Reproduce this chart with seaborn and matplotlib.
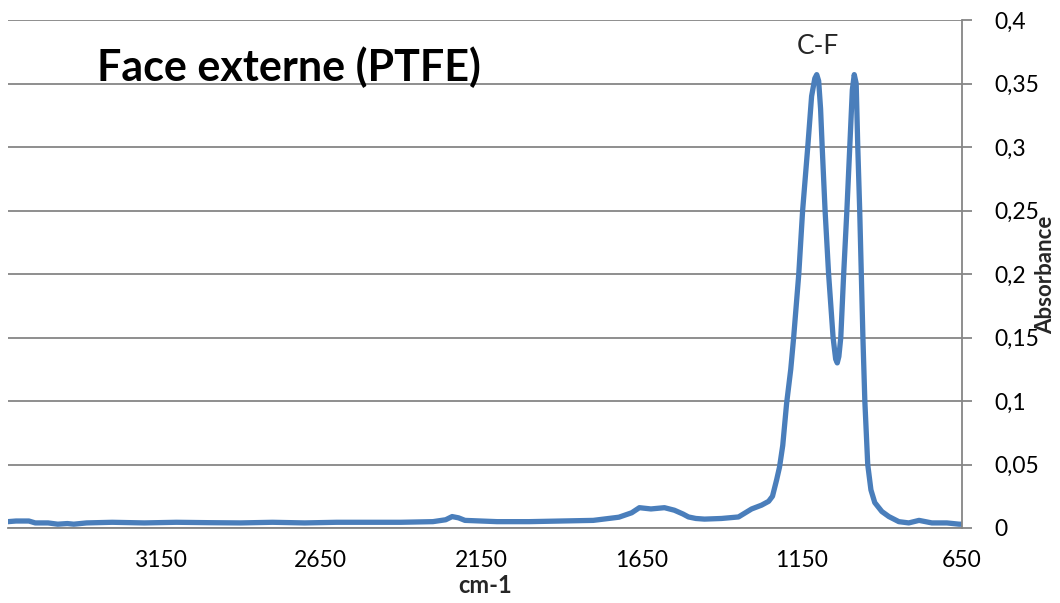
import numpy as np
import pandas as pd
import matplotlib
matplotlib.use("Agg")
import matplotlib.pyplot as plt
import seaborn as sns
from matplotlib.ticker import FuncFormatter

# Spectrum (wavenumber in cm-1, absorbance)
wavenumber = [3625, 3600, 3560, 3540, 3500, 3470, 3440, 3420, 3380, 3300,
              3200, 3100, 3000, 2900, 2800, 2700, 2600, 2500, 2400, 2300,
              2260, 2240, 2220, 2200, 2100, 2000, 1900, 1800, 1720, 1680,
              1656, 1620, 1578, 1547, 1520, 1503, 1480, 1453, 1400, 1347,
              1306, 1275, 1253, 1241, 1228, 1219, 1209, 1197, 1184, 1175,
              1159, 1147, 1131, 1119, 1109, 1103, 1097, 1091, 1086, 1077,
              1066, 1052, 1044, 1039, 1034, 1028, 1019, 1009, 1000, 992,
              986, 980, 975, 969, 964, 959, 953, 944, 934, 922,
              900, 878, 847, 816, 784, 744, 697, 659, 650]
absorbance = [0.005, 0.0055, 0.0055, 0.004, 0.004, 0.003, 0.0035, 0.003, 0.004, 0.0045,
              0.004, 0.0045, 0.0042, 0.004, 0.0045, 0.004, 0.0045, 0.0045, 0.0045, 0.005,
              0.0065, 0.009, 0.008, 0.006, 0.005, 0.005, 0.0055, 0.006, 0.0085, 0.012,
              0.016, 0.015, 0.016, 0.014, 0.011, 0.0087, 0.0075, 0.007, 0.0075, 0.0087,
              0.015, 0.018, 0.021, 0.025, 0.038, 0.048, 0.065, 0.098, 0.125, 0.15,
              0.2, 0.25, 0.3, 0.34, 0.354, 0.357, 0.352, 0.33, 0.30, 0.25,
              0.2, 0.15, 0.133, 0.13, 0.135, 0.15, 0.2, 0.25, 0.3, 0.345,
              0.357, 0.35, 0.30, 0.25, 0.2, 0.15, 0.10, 0.05, 0.03, 0.02,
              0.013, 0.009, 0.005, 0.004, 0.006, 0.004, 0.004, 0.003, 0.003]

x_ticks = [3150, 2650, 2150, 1650, 1150, 650]
y_ticks = [0, 0.05, 0.1, 0.15, 0.2, 0.25, 0.3, 0.35, 0.4]

df = pd.DataFrame({"wn": wavenumber, "abs": absorbance})

sns.set_style("white")
plt.rcParams["font.family"] = ["Lato", "DejaVu Sans"]
grey = "#868686"

fig = plt.figure(figsize=(10.6, 6.03), dpi=100)
ax = fig.add_axes([8 / 1060, 1 - 528 / 603, 954 / 1060, 508 / 603])

sns.lineplot(data=df, x="wn", y="abs", ax=ax, color="#4a7ebb", linewidth=3.8,
             solid_joinstyle="round", solid_capstyle="round")

ax.set_xlim(3625, 650)
ax.set_ylim(0, 0.4)
ax.set_xticks(x_ticks)
ax.set_yticks(y_ticks)
ax.yaxis.tick_right()
ax.yaxis.set_major_formatter(FuncFormatter(lambda v, p: ("%g" % round(v, 2)).replace(".", ",")))

ax.grid(axis="y", color=grey, linewidth=1.3)
ax.set_axisbelow(True)
for side in ["top", "left"]:
    ax.spines[side].set_visible(False)
for side in ["bottom", "right"]:
    ax.spines[side].set_color(grey)
    ax.spines[side].set_linewidth(1.3)
ax.tick_params(axis="both", direction="out", length=7, width=1.3, color=grey,
               labelsize=16.5, labelcolor="black")
ax.tick_params(axis="y", pad=16)
ax.tick_params(axis="x", pad=9)

ax.set_xlabel("cm-1", fontsize=17, fontweight="bold", labelpad=2)
ax.set_ylabel("")
fig.text(1046 / 1060, 1 - 275 / 603, "Absorbance", rotation=90, fontsize=16,
         fontweight="bold", ha="center", va="center")

ax.text(0.093, 0.907, "Face externe (PTFE)", transform=ax.transAxes,
        fontsize=31, fontweight="bold", va="center", ha="left", color="black")
ax.text(1100, 0.379, "C-F", fontsize=19, va="center", ha="center")

fig.savefig("out.png", dpi=100)
